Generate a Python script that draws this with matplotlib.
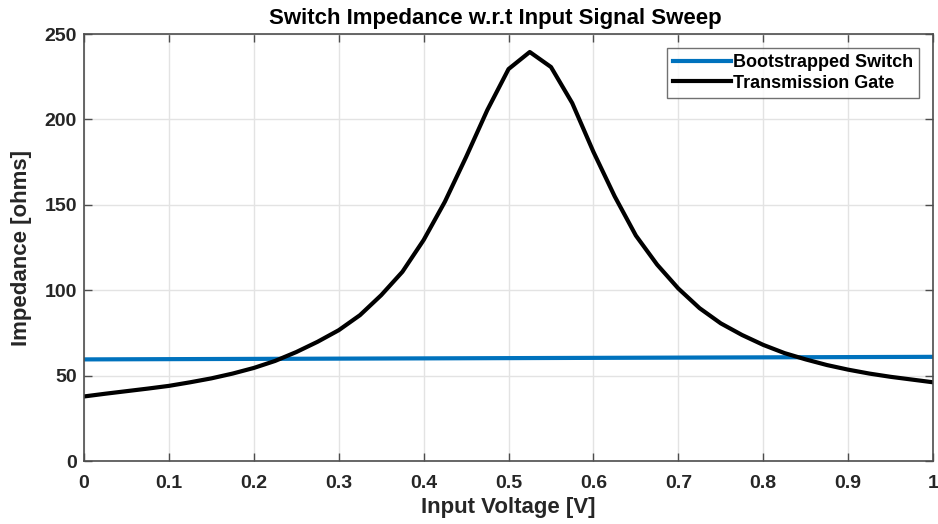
import matplotlib
matplotlib.use("Agg")
import matplotlib.pyplot as plt

# Input voltage sweep points (V)
v_tg = [0.0, 0.025, 0.05, 0.075, 0.1, 0.125, 0.15, 0.175, 0.2, 0.225,
        0.25, 0.275, 0.3, 0.325, 0.35, 0.375, 0.4, 0.425, 0.45, 0.475,
        0.5, 0.525, 0.55, 0.575, 0.6, 0.625, 0.65, 0.675, 0.7, 0.725,
        0.75, 0.775, 0.8, 0.825, 0.85, 0.875, 0.9, 0.925, 0.95, 0.975, 1.0]
# Transmission gate on-resistance (ohms)
r_tg = [37.8, 39.4, 40.9, 42.4, 44.0, 46.1, 48.4, 51.2, 54.5, 58.6,
        63.8, 69.8, 76.6, 85.4, 97.1, 110.8, 129.4, 151.8, 178.0, 205.5,
        229.5, 239.5, 230.7, 209.6, 181.0, 155.0, 132.0, 115.0, 101.0, 89.5,
        80.6, 73.8, 68.0, 63.2, 59.5, 56.2, 53.5, 51.2, 49.3, 47.7, 46.1]

v_bs = [0.0, 0.1, 0.2, 0.3, 0.4, 0.5, 0.6, 0.7, 0.8, 0.9, 1.0]
# Bootstrapped switch on-resistance (ohms)
r_bs = [59.5, 59.65, 59.8, 59.95, 60.1, 60.25, 60.4, 60.55, 60.7, 60.85, 61.0]

plt.rcParams['font.family'] = ['Liberation Sans', 'DejaVu Sans']
plt.rcParams['font.weight'] = 'bold'

txt = '#262626'
ax_col = '#4d4d4d'

fig = plt.figure(figsize=(9.38, 5.24), dpi=100)
ax = fig.add_axes([0.0896, 0.1202, 0.9051, 0.8148])

ax.plot(v_bs, r_bs, color='#0072BD', lw=3.0, label='Bootstrapped Switch')
ax.plot(v_tg, r_tg, color='black', lw=3.0, label='Transmission Gate')

ax.set_xlim(0, 1)
ax.set_ylim(0, 250)
ax.set_xticks([0, 0.1, 0.2, 0.3, 0.4, 0.5, 0.6, 0.7, 0.8, 0.9, 1])
ax.set_xticklabels(['0', '0.1', '0.2', '0.3', '0.4', '0.5', '0.6', '0.7', '0.8', '0.9', '1'])
ax.set_yticks([0, 50, 100, 150, 200, 250])

# grid and box like the MATLAB default look
ax.grid(True, color='#e3e3e3', lw=1.0)
ax.set_axisbelow(True)
for s in ax.spines.values():
    s.set_color(ax_col)
    s.set_linewidth(1.2)
ax.tick_params(direction='in', length=6, width=1.0, color=ax_col,
               labelsize=14, labelcolor=txt, top=True, right=True, pad=5)
ax.tick_params(axis='x', pad=10)

ax.set_title('Switch Impedance w.r.t Input Signal Sweep', fontsize=16,
             fontweight='bold', color='black', pad=7, x=0.485)
ax.set_xlabel('Input Voltage [V]', fontsize=16, fontweight='bold', color=txt, labelpad=4)
ax.set_ylabel('Impedance [ohms]', fontsize=16, fontweight='bold', color=txt, labelpad=9)

leg = ax.legend(loc='upper right', fontsize=13, frameon=True, fancybox=False,
                edgecolor=ax_col, handlelength=3.2, handletextpad=0.1,
                borderpad=0.35, labelspacing=0.2, borderaxespad=0.75)
leg.get_frame().set_linewidth(1.0)
for t in leg.get_texts():
    t.set_color('black')

fig.savefig('out.png', dpi=100)
